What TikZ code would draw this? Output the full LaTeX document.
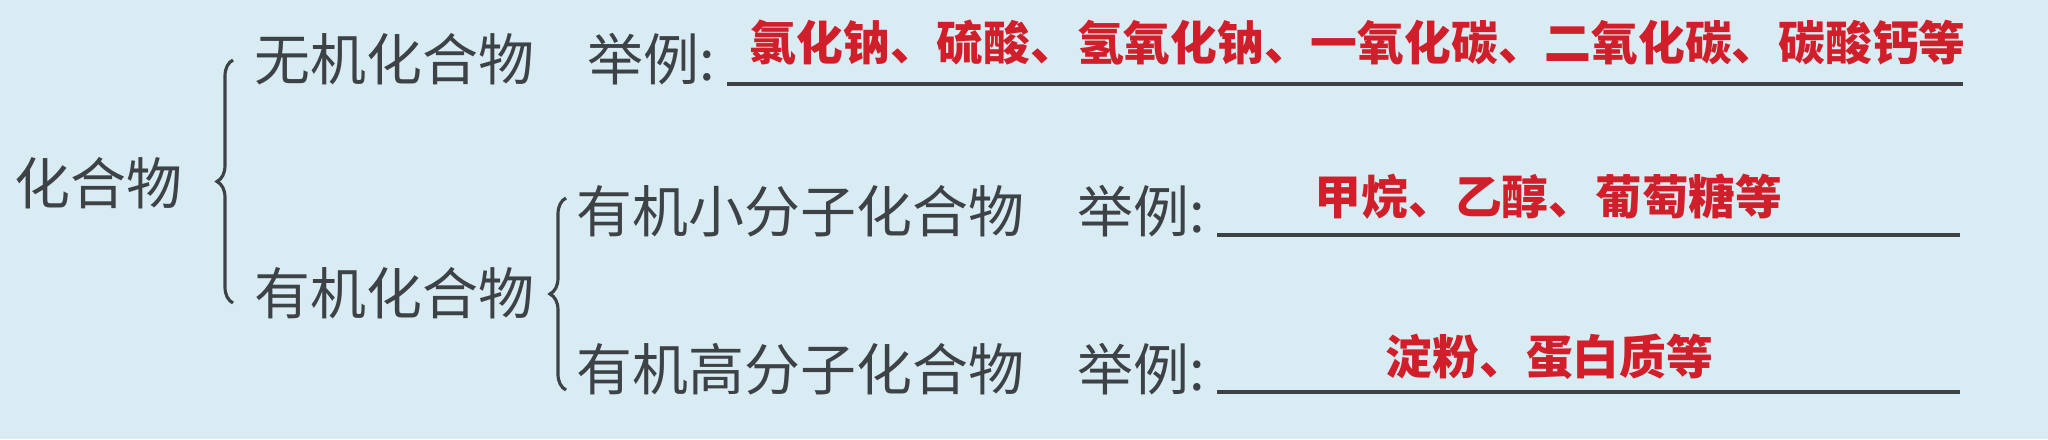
\documentclass[tikz,border=0pt]{standalone}
\usepackage{fontspec}
\newfontfamily\cjk{Noto Sans CJK SC}
\usepackage{xcolor}
\definecolor{paperBlue}{HTML}{D9ECF3}
\definecolor{inkGray}{HTML}{3D4247}
\definecolor{answerRed}{HTML}{D01F2A}
\usepackage{tikz}
\usetikzlibrary{positioning, decorations.pathreplacing}

\begin{document}
\begin{tikzpicture}[
    x=0.01cm, y=-0.01cm,
    term/.style={anchor=west, inner sep=0pt, font=\cjk\fontsize{15.9pt}{16pt}\selectfont, text=inkGray},
    answer/.style={anchor=west, inner sep=0pt, font=\cjk\bfseries\fontsize{13.3pt}{14pt}\selectfont, text=answerRed},
    blank/.style={draw=inkGray, line width=0.9pt},
    bracebar/.style={draw=inkGray, line width=0.9pt, decorate, decoration={brace, amplitude=0.16cm}}
]

% page
\fill[paperBlue] (0,0) rectangle (2048,439);
\useasboundingbox (0,0) rectangle (2048,439);

% left column
\node (whole) [term] at (14,183) {化合物};
\node (inorg) [term] at (254,59) {无机化合物};
\node (org) [term] at (254,293) {有机化合物};

% organic split
\node (small) [term] at (576,211) {有机小分子化合物};
\node (big) [term] at (576,369) {有机高分子化合物};

% example labels
\node (inorgEx) [term, right=0.52cm of inorg] {举例:};
\node (smallEx) [term, right=0.52cm of small] {举例:};
\node (bigEx) [term, right=0.52cm of big] {举例:};

% answers in red
\node (inorgAns) [answer] at (749,43) {氯化钠、硫酸、氢氧化钠、一氧化碳、二氧化碳、碳酸钙等};
\node (smallAns) [answer] at (1314,197) {甲烷、乙醇、葡萄糖等};
\node (bigAns) [answer] at (1385,357) {淀粉、蛋白质等};

% braces
\coordinate (outerTop) at (233,60);
\coordinate (outerBot) at (233,303);
\coordinate (innerTop) at (566,198);
\coordinate (innerBot) at (566,390);
\draw [bracebar] (outerBot) -- (outerTop);
\draw [bracebar] (innerBot) -- (innerTop);

% answer lines
\coordinate (inorgLineL) at (727,84);
\coordinate (inorgLineR) at (1963,84);
\coordinate (smallLineL) at (1217,235);
\coordinate (smallLineR) at (1960,235);
\coordinate (bigLineL) at (1217,392);
\coordinate (bigLineR) at (1960,392);
\draw [blank] (inorgLineL) -- (inorgLineR);
\draw [blank] (smallLineL) -- (smallLineR);
\draw [blank] (bigLineL) -- (bigLineR);

\end{tikzpicture}
\end{document}
